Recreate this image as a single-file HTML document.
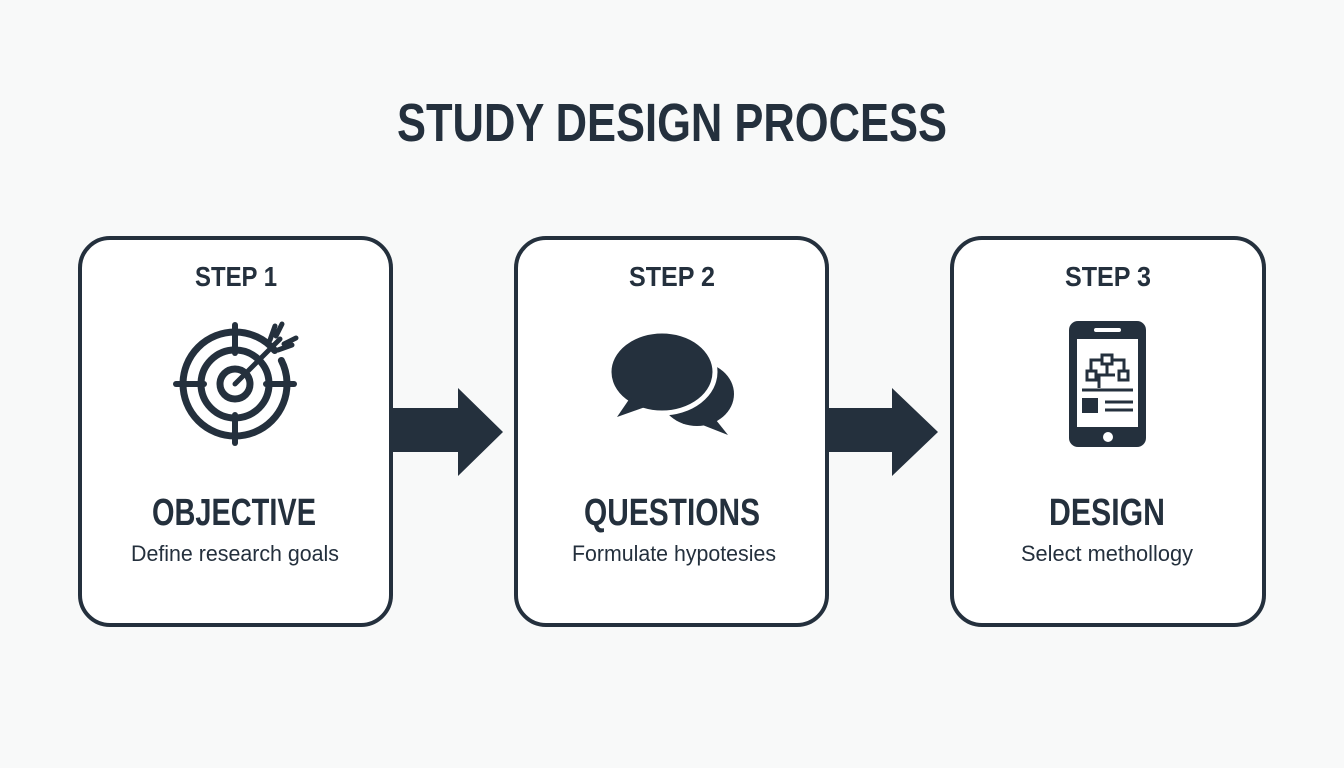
<!DOCTYPE html>
<html><head><style>
html,body{margin:0;padding:0;background:#f8f9f9;}
svg{display:block}
text{font-family:"Liberation Sans",sans-serif;fill:#24303d;text-anchor:middle}
</style></head><body>
<svg width="1344" height="768" viewBox="0 0 1344 768" xmlns="http://www.w3.org/2000/svg">
<rect width="1344" height="768" fill="#f8f9f9"/>
<text x="672" y="141" font-size="54" font-weight="bold" textLength="550" lengthAdjust="spacingAndGlyphs">STUDY DESIGN PROCESS</text>
<g fill="#fff" stroke="#24303d" stroke-width="4">
<rect x="80" y="238" width="311" height="387" rx="30"/>
<rect x="516" y="238" width="311" height="387" rx="30"/>
<rect x="952" y="238" width="312" height="387" rx="30"/>
</g>
<g fill="#24303d">
<polygon points="392,408 458,408 458,388 503,432 458,476 458,452 392,452"/>
<polygon points="828,408 892,408 892,388 938,432 892,476 892,452 828,452"/>
</g>
<g font-weight="bold">
<text x="236" y="286" font-size="28" textLength="82" lengthAdjust="spacingAndGlyphs">STEP 1</text>
<text x="672" y="286" font-size="28" textLength="86" lengthAdjust="spacingAndGlyphs">STEP 2</text>
<text x="1108" y="286" font-size="28" textLength="86" lengthAdjust="spacingAndGlyphs">STEP 3</text>
<text x="234" y="525" font-size="38" textLength="164" lengthAdjust="spacingAndGlyphs">OBJECTIVE</text>
<text x="672" y="525" font-size="38" textLength="176" lengthAdjust="spacingAndGlyphs">QUESTIONS</text>
<text x="1107" y="525" font-size="38" textLength="116" lengthAdjust="spacingAndGlyphs">DESIGN</text>
</g>
<text x="235" y="561" font-size="22" textLength="208" lengthAdjust="spacingAndGlyphs">Define research goals</text>
<text x="674" y="561" font-size="22" textLength="204" lengthAdjust="spacingAndGlyphs">Formulate hypotesies</text>
<text x="1107" y="561" font-size="22" textLength="172" lengthAdjust="spacingAndGlyphs">Select methollogy</text>
<!-- target -->
<g stroke="#24303d" fill="none" stroke-linecap="round">
<circle cx="235" cy="384" r="52" stroke-width="7" stroke-dasharray="290 12"/>
<circle cx="235" cy="384" r="34" stroke-width="7"/>
<circle cx="235" cy="384" r="15" stroke-width="7"/>
<line x1="235" y1="325" x2="235" y2="353" stroke-width="6"/>
<line x1="235" y1="415" x2="235" y2="443" stroke-width="6"/>
<line x1="176" y1="384" x2="204" y2="384" stroke-width="6"/>
<line x1="266" y1="384" x2="294" y2="384" stroke-width="6"/>
<line x1="235" y1="384" x2="280" y2="339" stroke-width="5"/>
<path d="M270 340 L275 326 M278 350 L292 345 M276 336 L282 324 M284 344 L296 338" stroke-width="5"/>
</g>
<!-- bubbles -->
<g fill="#24303d">
<ellipse cx="697" cy="394" rx="37" ry="32"/>
<path d="M712 415 L728 435 L700 424 Z"/>
<ellipse cx="662" cy="372" rx="53" ry="41" stroke="#fff" stroke-width="5"/>
<ellipse cx="662" cy="372" rx="50" ry="38"/>
<path d="M630 398 L617 417 L648 406 Z"/>
</g>
<!-- phone -->
<g>
<rect x="1069" y="321" width="77" height="126" rx="9" fill="#24303d"/>
<rect x="1077" y="339" width="61" height="88" fill="#fff"/>
<rect x="1094" y="328" width="27" height="4" rx="2" fill="#fff"/>
<circle cx="1108" cy="437" r="5" fill="#fff"/>
<g stroke="#24303d" stroke-width="3" fill="none">
<rect x="1102" y="355" width="10" height="9"/>
<rect x="1087" y="371" width="9" height="9"/>
<rect x="1119" y="371" width="9" height="9"/>
<path d="M1091 371 V360 H1102 M1112 360 H1124 V371 M1099 388 V375 H1115 M1107 375 V364"/>
<line x1="1082" y1="390" x2="1133" y2="390"/>
<line x1="1105" y1="402" x2="1133" y2="402"/>
<line x1="1105" y1="410" x2="1133" y2="410"/>
</g>
<rect x="1082" y="398" width="16" height="15" fill="#24303d"/>
</g>
</svg>
</body></html>
